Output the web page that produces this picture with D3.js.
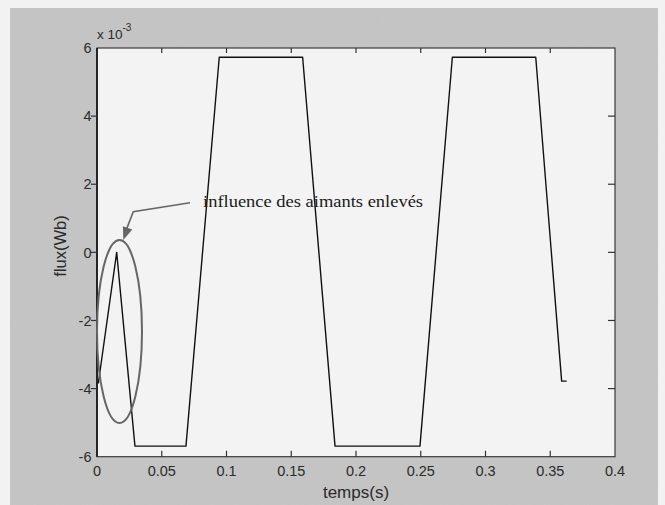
<!DOCTYPE html>
<html><head><meta charset="utf-8">
<script src="https://cdn.jsdelivr.net/npm/d3@7"></script>
<style>html,body{margin:0;padding:0;background:#f3f3f3;}svg{display:block;}</style>
</head><body><svg id="c" width="665" height="505"></svg>
<script>
// data: time (s) and flux (x 1e-3 Wb)
const time = [0.001, 0.0152, 0.0293, 0.0687, 0.0944, 0.1588, 0.1838, 0.2494, 0.2744, 0.3388, 0.3588, 0.3627];
const flux = [-3.85, 0.0, -5.69, -5.69, 5.73, 5.73, -5.69, -5.69, 5.73, 5.73, -3.78, -3.78];
const xTicks = [0, 0.05, 0.1, 0.15, 0.2, 0.25, 0.3, 0.35, 0.4];
const yTicks = [-6, -4, -2, 0, 2, 4, 6];
const xLabel = "temps(s)";
const yLabel = "flux(Wb)";
const annoText = "influence des aimants enlevés";
// annotation geometry in data units
const ellipseCenter = [0.01737, -2.325];
const ellipseRadii = [0.01737, 2.686];
const arrowPath = [[0.0718, 1.456], [0.0280, 1.19], [0.0215, 0.55]];
const arrowTip = [0.0203, 0.361];
const textPos = [0.0819, 1.33];

const svg = d3.select("#c");
const W = 665, H = 505;
const L = 97, R = 615, T = 48, B = 456.7;
const x = d3.scaleLinear().domain([0, 0.4]).range([L, R]);
const y = d3.scaleLinear().domain([-6, 6]).range([B, T]);

const defs = svg.append("defs");
const f = defs.append("filter").attr("id", "grain").attr("x", 0).attr("y", 0).attr("width", 1).attr("height", 1);
f.append("feTurbulence").attr("type", "fractalNoise").attr("baseFrequency", 0.9).attr("numOctaves", 2).attr("seed", 3).attr("result", "n");
f.append("feColorMatrix").attr("in", "n").attr("type", "matrix")
  .attr("values", "0 0 0 0 0.5  0 0 0 0 0.5  0 0 0 0 0.5  0 0 0 0.45 -0.05").attr("result", "m");
f.append("feComposite").attr("in", "m").attr("in2", "SourceGraphic").attr("operator", "in").attr("result", "g");
f.append("feMerge").selectAll("feMergeNode").data(["SourceGraphic", "g"]).enter().append("feMergeNode").attr("in", d => d);

// page + frame
svg.append("rect").attr("width", W).attr("height", H).attr("fill", "#f2f2f2");
svg.append("rect").attr("x", 10).attr("y", 8).attr("width", 648).attr("height", H - 8)
  .attr("fill", "#c6c6c6").attr("filter", "url(#grain)");
svg.append("rect").attr("x", L).attr("y", T).attr("width", R - L).attr("height", B - T).attr("fill", "#f3f3f3");

// curve
const line = d3.line().x((d, i) => x(time[i])).y((d, i) => y(flux[i]));
svg.append("path").datum(flux).attr("d", line).attr("fill", "none")
  .attr("stroke", "#111").attr("stroke-width", 1.4).attr("stroke-linejoin", "round");

// box
svg.append("rect").attr("x", L).attr("y", T).attr("width", R - L).attr("height", B - T)
  .attr("fill", "none").attr("stroke", "#3a3a3a").attr("stroke-width", 1.2);
svg.append("line").attr("x1", L).attr("x2", L).attr("y1", T).attr("y2", B).attr("stroke", "#111").attr("stroke-width", 1.6);

// ticks
const tk = svg.append("g").attr("stroke", "#333").attr("stroke-width", 1.2);
xTicks.slice(1, -1).forEach(v => {
  tk.append("line").attr("x1", x(v)).attr("x2", x(v)).attr("y1", B).attr("y2", B - 6);
  tk.append("line").attr("x1", x(v)).attr("x2", x(v)).attr("y1", T).attr("y2", T + 5);
});
yTicks.slice(1, -1).forEach(v => {
  tk.append("line").attr("x1", L).attr("x2", L - 6).attr("y1", y(v)).attr("y2", y(v));
  tk.append("line").attr("x1", R).attr("x2", R - 7).attr("y1", y(v)).attr("y2", y(v));
});

const lab = svg.append("g").attr("font-family", "Liberation Sans, Arial, sans-serif").attr("fill", "#2b2b2b");
xTicks.forEach(v => {
  lab.append("text").attr("x", x(v)).attr("y", 476).attr("text-anchor", "middle")
    .attr("font-size", 14.5).text(d3.format("")(v));
});
yTicks.forEach(v => {
  lab.append("text").attr("x", 91.5).attr("y", y(v) + 5.2).attr("text-anchor", "end")
    .attr("font-size", 14.5).text(v);
});
const ex = lab.append("text").attr("x", L).attr("y", 38.5).attr("font-size", 13.5);
ex.append("tspan").text("x 10");
ex.append("tspan").attr("dy", -8).attr("font-size", 10).text("-3");

lab.append("text").attr("x", (L + R) / 2).attr("y", 498).attr("text-anchor", "middle")
  .attr("font-size", 17).text(xLabel);
lab.append("text").attr("transform", "rotate(-90)").attr("x", -246).attr("y", 66)
  .attr("text-anchor", "middle").attr("font-size", 16.5).text(yLabel);

// annotation
const ag = svg.append("g");
ag.append("ellipse").attr("cx", x(ellipseCenter[0])).attr("cy", y(ellipseCenter[1]))
  .attr("rx", x(ellipseRadii[0]) - x(0)).attr("ry", y(0) - y(ellipseRadii[1]))
  .attr("fill", "none").attr("stroke", "#666").attr("stroke-width", 2);
ag.append("path").attr("d", d3.line().x(d => x(d[0])).y(d => y(d[1]))(arrowPath))
  .attr("fill", "none").attr("stroke", "#666").attr("stroke-width", 1.6);
// arrowhead
const tip = [x(arrowTip[0]), y(arrowTip[1])];
const from = [x(arrowPath[1][0]), y(arrowPath[1][1])];
const ang = Math.atan2(tip[1] - from[1], tip[0] - from[0]);
const hl = 13, hw = 5;
const bx = tip[0] - hl * Math.cos(ang), by = tip[1] - hl * Math.sin(ang);
ag.append("path").attr("d", `M${tip[0]},${tip[1]}L${bx + hw * Math.sin(ang)},${by - hw * Math.cos(ang)}L${bx - hw * Math.sin(ang)},${by + hw * Math.cos(ang)}Z`)
  .attr("fill", "#666");
ag.append("text").attr("x", x(textPos[0])).attr("y", y(textPos[1]))
  .attr("font-family", "Liberation Serif, Times New Roman, serif").attr("font-size", 16)
  .attr("fill", "#1a1a1a").attr("textLength", 220).attr("lengthAdjust", "spacingAndGlyphs").text(annoText);
</script></body></html>
